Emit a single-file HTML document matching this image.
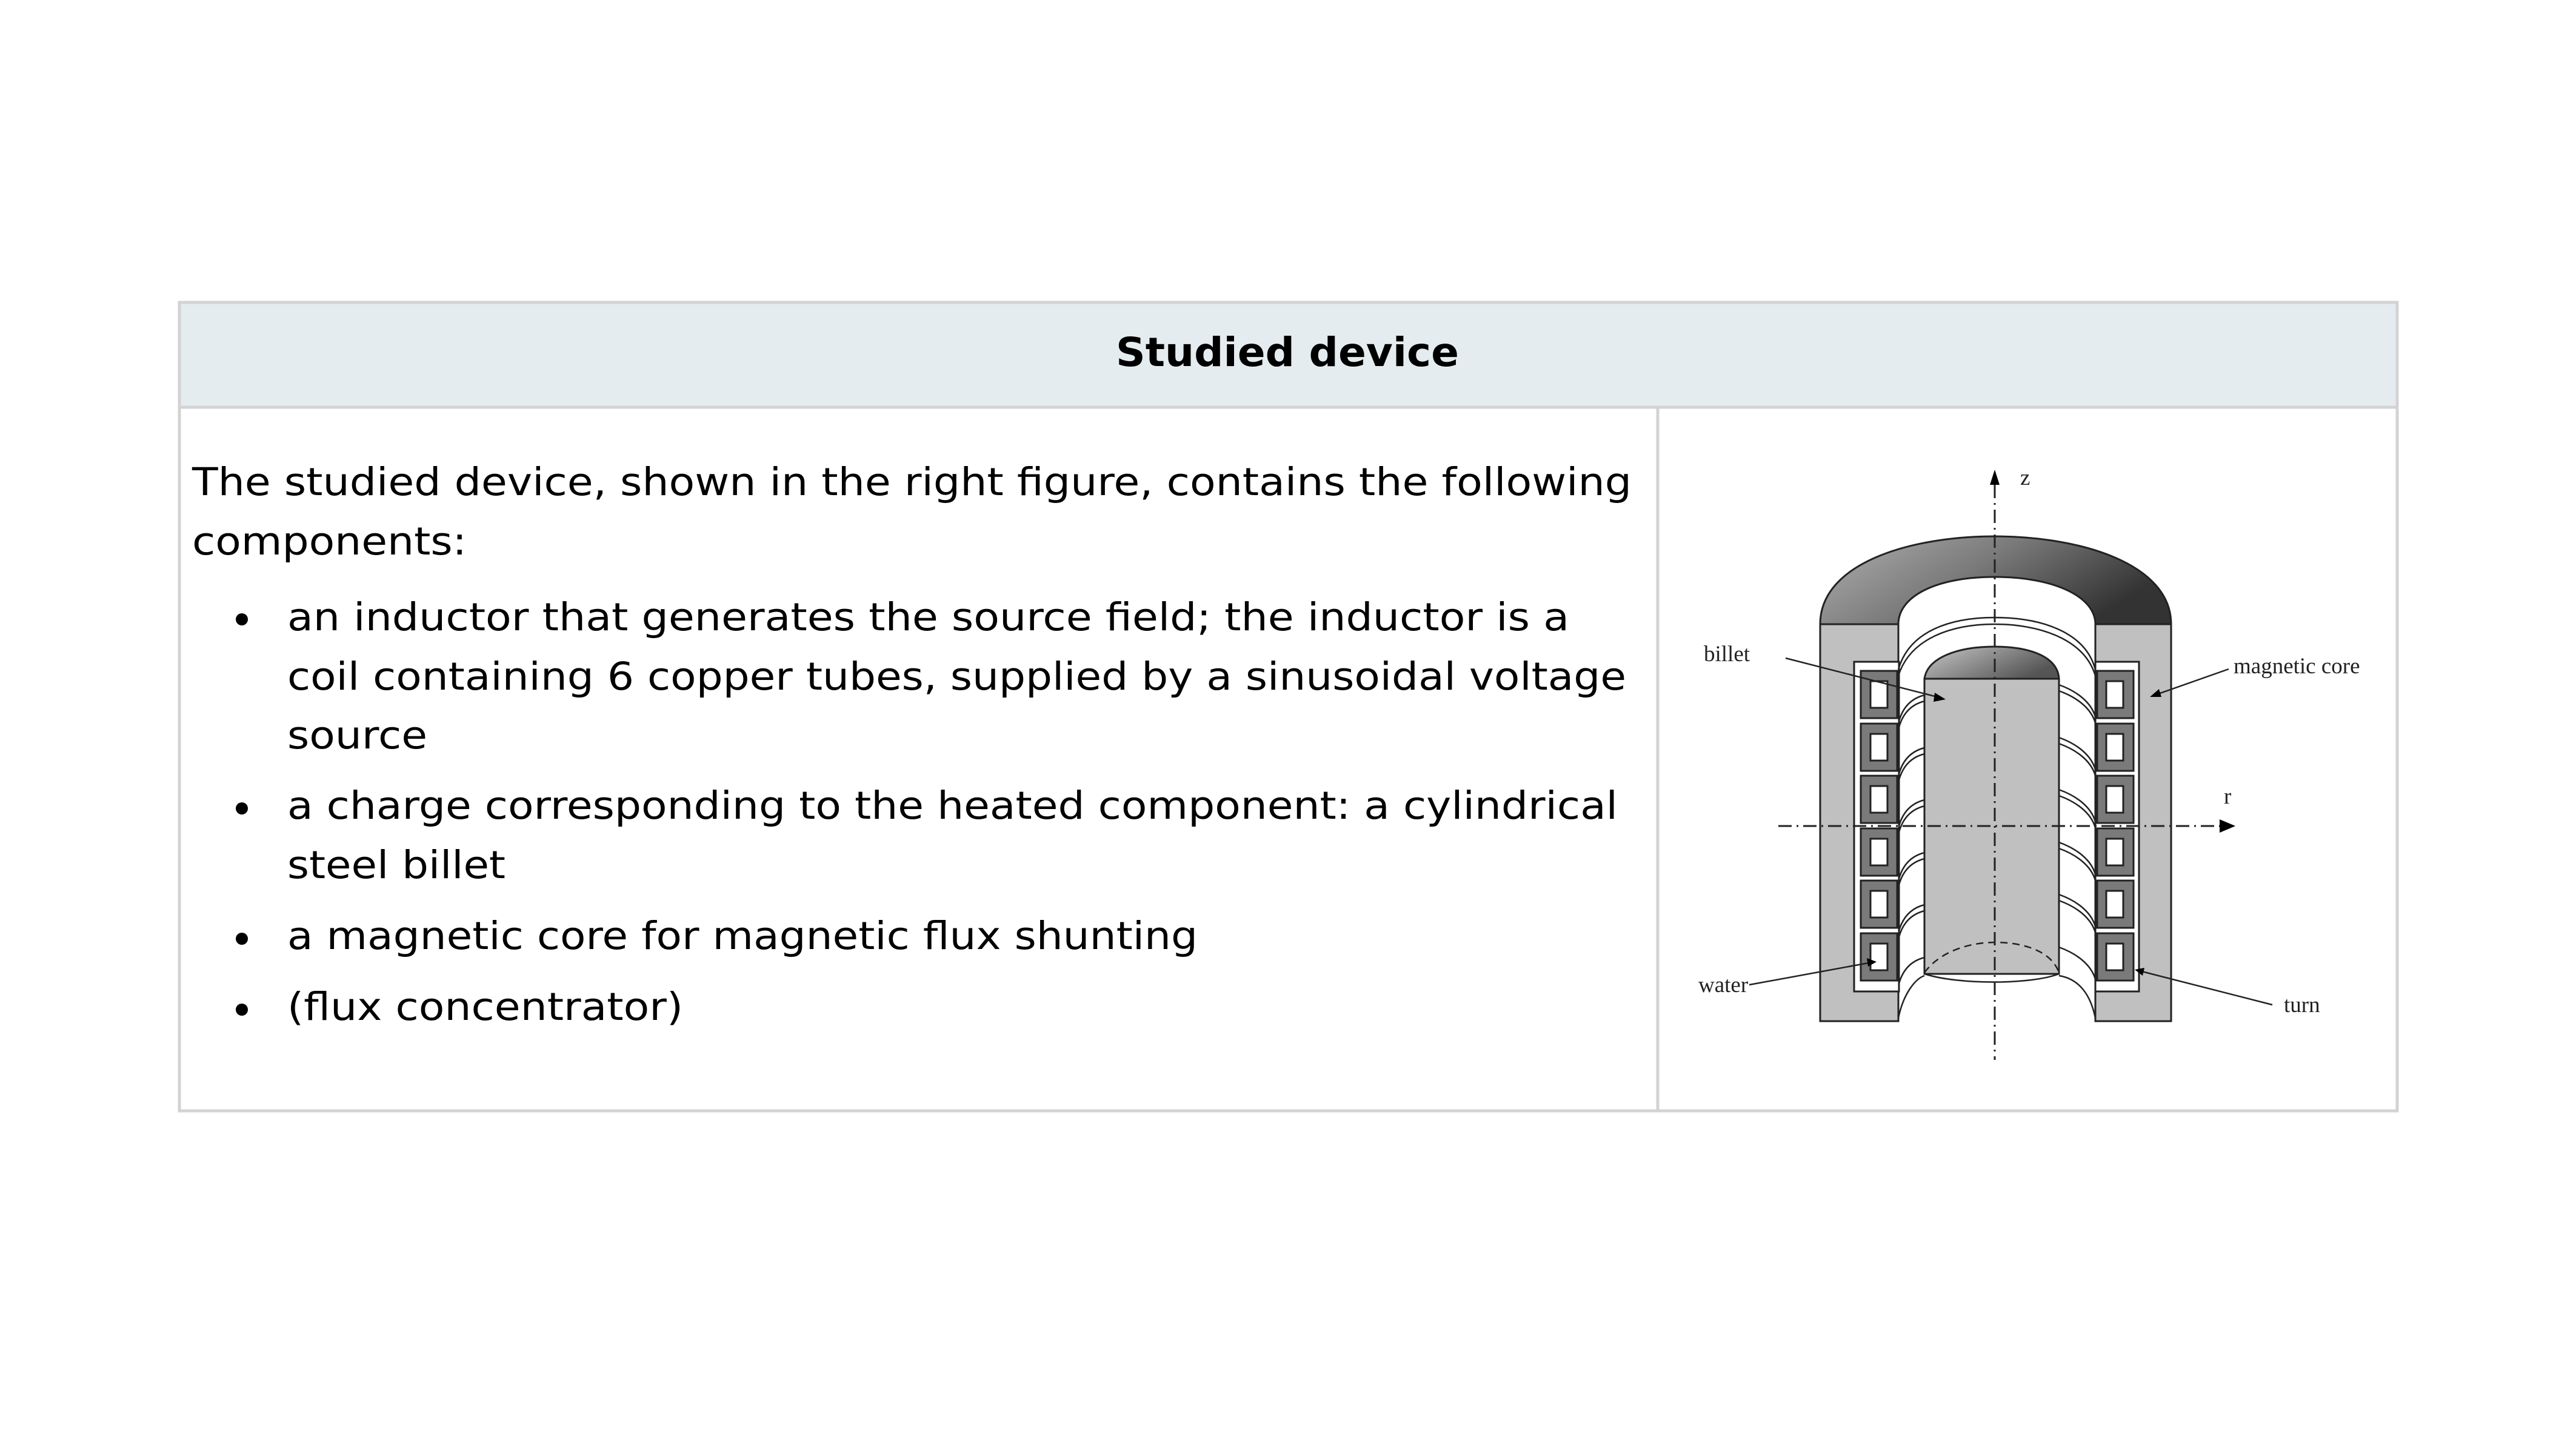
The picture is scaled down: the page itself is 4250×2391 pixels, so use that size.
<!DOCTYPE html>
<html><head><meta charset="utf-8"><style>html,body{margin:0;padding:0;background:#fff}svg{display:block}</style></head>
<body>
<svg xmlns="http://www.w3.org/2000/svg" width="4250" height="2391" viewBox="0 0 4250 2391">
<defs>
<linearGradient id="arch" x1="0" y1="0" x2="1" y2="0.4">
<stop offset="0" stop-color="#b0b0b0"/><stop offset="0.5" stop-color="#7a7a7a"/><stop offset="1" stop-color="#333"/>
</linearGradient>
<linearGradient id="dome" x1="0" y1="0" x2="1" y2="0.5">
<stop offset="0" stop-color="#c8c8c8"/><stop offset="1" stop-color="#555"/>
</linearGradient>
</defs>
<rect width="4250" height="2391" fill="#fff"/>
<rect x="296" y="499" width="3659" height="173" fill="#e5ecef"/>
<rect x="296" y="499" width="3659" height="1334" fill="none" stroke="#d3d3d3" stroke-width="5"/>
<line x1="296" y1="672" x2="3955" y2="672" stroke="#d3d3d3" stroke-width="5"/>
<line x1="2735" y1="672" x2="2735" y2="1833" stroke="#d3d3d3" stroke-width="5"/>
<g font-family="'DejaVu Sans','Liberation Sans',sans-serif" fill="#000">
<text x="1841" y="604" font-size="66" font-weight="bold" textLength="566" lengthAdjust="spacingAndGlyphs">Studied device</text>
<g font-size="63">
<text x="317" y="817" textLength="2375" lengthAdjust="spacingAndGlyphs">The studied device, shown in the right figure, contains the following</text>
<text x="317" y="915" textLength="453" lengthAdjust="spacingAndGlyphs">components:</text>
<text x="474" y="1040" textLength="2115" lengthAdjust="spacingAndGlyphs">an inductor that generates the source field; the inductor is a</text>
<text x="474" y="1138" textLength="2209" lengthAdjust="spacingAndGlyphs">coil containing 6 copper tubes, supplied by a sinusoidal voltage</text>
<text x="474" y="1235" textLength="231" lengthAdjust="spacingAndGlyphs">source</text>
<text x="474" y="1351" textLength="2195" lengthAdjust="spacingAndGlyphs">a charge corresponding to the heated component: a cylindrical</text>
<text x="474" y="1449" textLength="360" lengthAdjust="spacingAndGlyphs">steel billet</text>
<text x="474" y="1566" textLength="1502" lengthAdjust="spacingAndGlyphs">a magnetic core for magnetic flux shunting</text>
<text x="474" y="1683" textLength="653" lengthAdjust="spacingAndGlyphs">(flux concentrator)</text>
</g>
</g>
<g fill="#000">
<circle cx="399" cy="1022" r="10"/><circle cx="399" cy="1334" r="10"/><circle cx="399" cy="1549" r="10"/><circle cx="399" cy="1666" r="10"/>
</g>
<g stroke="#222" stroke-width="3">
<path d="M3003,1030 C3003,930 3150,885 3291,885 C3432,885 3582,930 3582,1030 L3457,1030 C3457,985 3390,952 3291,952 C3192,952 3132,985 3132,1030 Z" fill="url(#arch)"/>
<rect x="3003" y="1030" width="129" height="655" fill="#c0c0c0"/>
<rect x="3457" y="1030" width="125" height="655" fill="#c0c0c0"/>
<rect x="3059" y="1092" width="74" height="544" fill="#fff"/>
<rect x="3457" y="1092" width="72" height="544" fill="#fff"/>
</g>
<g fill="none" stroke="#222" stroke-width="2.5">
<path d="M3132,1105 C3150,1040 3220,1019 3291,1019 C3362,1019 3440,1040 3457,1105"/>
<path d="M3132,1115 C3152,1052 3222,1030 3291,1030 C3360,1030 3438,1052 3457,1115"/>
<path d="M3132,1680 C3140,1640 3160,1615 3175,1610"/>
<path d="M3457,1680 C3449,1640 3429,1615 3397,1610"/>
<path d="M3175,1607 C3230,1625 3350,1625 3397,1607"/>
</g>
<g fill="none" stroke="#222" stroke-width="2.5">
<path d="M3133,1190 C3140,1165 3155,1152 3175,1147 M3133,1200 C3140,1175 3155,1162 3175,1157"/>
<path d="M3133,1277 C3140,1252 3155,1239 3175,1234 M3133,1287 C3140,1262 3155,1249 3175,1244"/>
<path d="M3133,1363 C3140,1338 3155,1325 3175,1320 M3133,1373 C3140,1348 3155,1335 3175,1330"/>
<path d="M3133,1450 C3140,1425 3155,1412 3175,1407 M3133,1460 C3140,1435 3155,1422 3175,1417"/>
<path d="M3133,1536 C3140,1511 3155,1498 3175,1493 M3133,1546 C3140,1521 3155,1508 3175,1503"/>
<path d="M3133,1623 C3140,1598 3155,1585 3175,1580"/>
<path d="M3457,1183 C3450,1158 3425,1140 3397,1130 M3457,1193 C3450,1168 3425,1150 3397,1140"/>
<path d="M3457,1270 C3450,1245 3425,1227 3397,1217 M3457,1280 C3450,1255 3425,1237 3397,1227"/>
<path d="M3457,1356 C3450,1331 3425,1313 3397,1303 M3457,1366 C3450,1341 3425,1323 3397,1313"/>
<path d="M3457,1443 C3450,1418 3425,1400 3397,1390 M3457,1453 C3450,1428 3425,1410 3397,1400"/>
<path d="M3457,1529 C3450,1504 3425,1486 3397,1476 M3457,1539 C3450,1514 3425,1496 3397,1486"/>
<path d="M3457,1616 C3450,1591 3425,1573 3397,1563"/>
</g>
<g stroke="#222" stroke-width="3">
<g fill="#7a7a7a">
<rect x="3070" y="1107" width="60" height="78"/><rect x="3070" y="1194" width="60" height="78"/><rect x="3070" y="1280" width="60" height="78"/>
<rect x="3070" y="1367" width="60" height="78"/><rect x="3070" y="1453" width="60" height="78"/><rect x="3070" y="1540" width="60" height="78"/>
<rect x="3460" y="1107" width="60" height="78"/><rect x="3460" y="1194" width="60" height="78"/><rect x="3460" y="1280" width="60" height="78"/>
<rect x="3460" y="1367" width="60" height="78"/><rect x="3460" y="1453" width="60" height="78"/><rect x="3460" y="1540" width="60" height="78"/>
</g>
<g fill="#fff">
<rect x="3086" y="1124" width="28" height="44"/><rect x="3086" y="1211" width="28" height="44"/><rect x="3086" y="1297" width="28" height="44"/>
<rect x="3086" y="1384" width="28" height="44"/><rect x="3086" y="1470" width="28" height="44"/><rect x="3086" y="1557" width="28" height="44"/>
<rect x="3475" y="1124" width="28" height="44"/><rect x="3475" y="1211" width="28" height="44"/><rect x="3475" y="1297" width="28" height="44"/>
<rect x="3475" y="1384" width="28" height="44"/><rect x="3475" y="1470" width="28" height="44"/><rect x="3475" y="1557" width="28" height="44"/>
</g>
</g>
<g stroke="#222" stroke-width="3">
<path d="M3175,1120 C3180,1085 3230,1067 3291,1067 C3352,1067 3395,1085 3397,1120 Z" fill="url(#dome)"/>
<rect x="3175" y="1120" width="222" height="487" fill="#c0c0c0"/>
</g>
<path d="M3175,1605 C3200,1570 3250,1555 3291,1555 C3340,1555 3385,1570 3397,1605" fill="none" stroke="#222" stroke-width="2.5" stroke-dasharray="12,8"/>
<g stroke="#222" stroke-width="3" fill="none" stroke-dasharray="22,8,3,8">
<line x1="3291" y1="800" x2="3291" y2="1749"/>
<line x1="2934" y1="1363" x2="3665" y2="1363"/>
</g>
<polygon points="3291,775 3283,800 3299,800" fill="#000"/>
<polygon points="3688,1363 3662,1352 3662,1374" fill="#000"/>
<g stroke="#222" stroke-width="2.5">
<line x1="2946" y1="1086" x2="3200" y2="1151"/>
<line x1="3677" y1="1104" x2="3555" y2="1147"/>
<line x1="2886" y1="1625" x2="3088" y2="1588"/>
<line x1="3749" y1="1658" x2="3530" y2="1602"/>
</g>
<g fill="#000">
<polygon points="3210,1154 3192,1143 3190,1158"/>
<polygon points="3547,1150 3562,1137 3566,1150"/>
<polygon points="3096,1587 3080,1581 3082,1595"/>
<polygon points="3522,1600 3538,1597 3535,1610"/>
</g>
<g font-family="'Liberation Serif',serif" font-size="37" fill="#222">
<text x="3333" y="800">z</text>
<text x="3669" y="1326">r</text>
<text x="2811" y="1091">billet</text>
<text x="3685" y="1111">magnetic core</text>
<text x="2802" y="1637">water</text>
<text x="3768" y="1670">turn</text>
</g>
</svg>
</body></html>
